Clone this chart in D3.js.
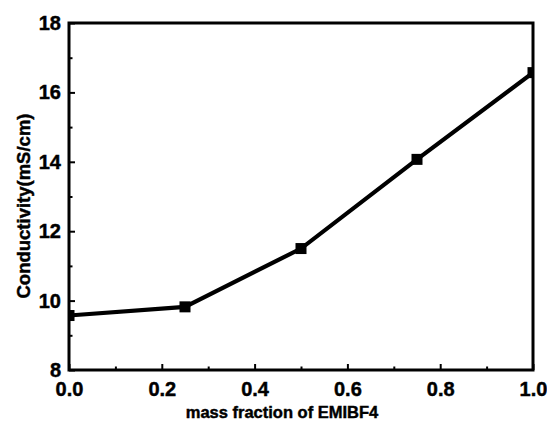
<!DOCTYPE html>
<html>
<head>
<meta charset="utf-8">
<script src="https://cdn.jsdelivr.net/npm/d3@7"></script>
<style>
  body { margin: 0; background: #fff; }
  text { font-family: "Liberation Sans", Arial, sans-serif; font-weight: bold; fill: #000; stroke: #000; stroke-width: 0.45px; }
</style>
</head>
<body>
<svg width="547" height="432"></svg>
<script>
// data
var massFraction = [0, 0.25, 0.5, 0.75, 1.0];
var conductivity = [9.57, 9.82, 11.5, 14.07, 16.57];
var xTicks = [0, 0.2, 0.4, 0.6, 0.8, 1.0];
var xMinor = [0.1, 0.3, 0.5, 0.7, 0.9];
var yTicks = [8, 10, 12, 14, 16, 18];
var yMinor = [9, 11, 13, 15, 17];

var svg = d3.select("svg"),
    margin = {left: 69, right: 14, top: 23, bottom: 62},
    width = +svg.attr("width") - margin.left - margin.right,
    height = +svg.attr("height") - margin.top - margin.bottom;

var g = svg.append("g").attr("transform", "translate(" + margin.left + "," + margin.top + ")");

var x = d3.scaleLinear().domain([0, 1]).range([0, width]);
var y = d3.scaleLinear().domain([8, 18]).range([height, 0]);

svg.append("defs").append("clipPath").attr("id", "clip")
  .append("rect").attr("width", width).attr("height", height);

// line + markers
var data = massFraction.map(function(d, i) { return {x: d, y: conductivity[i]}; });
var line = d3.line().x(function(d) { return x(d.x); }).y(function(d) { return y(d.y); });

var plot = g.append("g").attr("clip-path", "url(#clip)");
plot.append("path")
  .datum(data)
  .attr("d", line)
  .attr("fill", "none")
  .attr("stroke", "#000")
  .attr("stroke-width", 4.2);

var ms = 11;
plot.selectAll("rect.pt")
  .data(data)
  .enter().append("rect")
  .attr("class", "pt")
  .attr("x", function(d) { return x(d.x) - ms / 2; })
  .attr("y", function(d) { return y(d.y) - ms / 2; })
  .attr("width", ms)
  .attr("height", ms)
  .attr("fill", "#000");

// frame
g.append("rect")
  .attr("width", width).attr("height", height)
  .attr("fill", "none").attr("stroke", "#000").attr("stroke-width", 3);

// axes, ticks inward
var xAxis = g.append("g").attr("transform", "translate(0," + height + ")")
  .call(d3.axisBottom(x).tickValues(xTicks).tickFormat(d3.format(".1f")).tickSizeInner(-6).tickSizeOuter(0).tickPadding(12));
var xAxisMinor = g.append("g").attr("transform", "translate(0," + height + ")")
  .call(d3.axisBottom(x).tickValues(xMinor).tickFormat("").tickSizeInner(-3.5).tickSizeOuter(0));

var yAxis = g.append("g")
  .call(d3.axisLeft(y).tickValues(yTicks).tickFormat(d3.format("d")).tickSizeInner(-6).tickSizeOuter(0).tickPadding(8));
var yAxisMinor = g.append("g")
  .call(d3.axisLeft(y).tickValues(yMinor).tickFormat("").tickSizeInner(-3.5).tickSizeOuter(0));

[xAxis, xAxisMinor, yAxis, yAxisMinor].forEach(function(a) {
  a.select(".domain").remove();
  a.attr("font-size", null).attr("font-family", null);
  a.selectAll("line").attr("stroke", "#000").attr("stroke-width", 2);
  a.selectAll("text").style("font-size", "20px").style("font-weight", "bold");
});

// axis titles
svg.append("text")
  .attr("x", 282)
  .attr("y", 418)
  .attr("text-anchor", "middle")
  .style("font-size", "16.5px")
  .text("mass fraction of EMIBF4");

svg.append("text")
  .attr("transform", "translate(30," + 206 + ") rotate(-90)")
  .attr("text-anchor", "middle")
  .style("font-size", "18.5px")
  .text("Conductivity(mS/cm)");
</script>
</body>
</html>
